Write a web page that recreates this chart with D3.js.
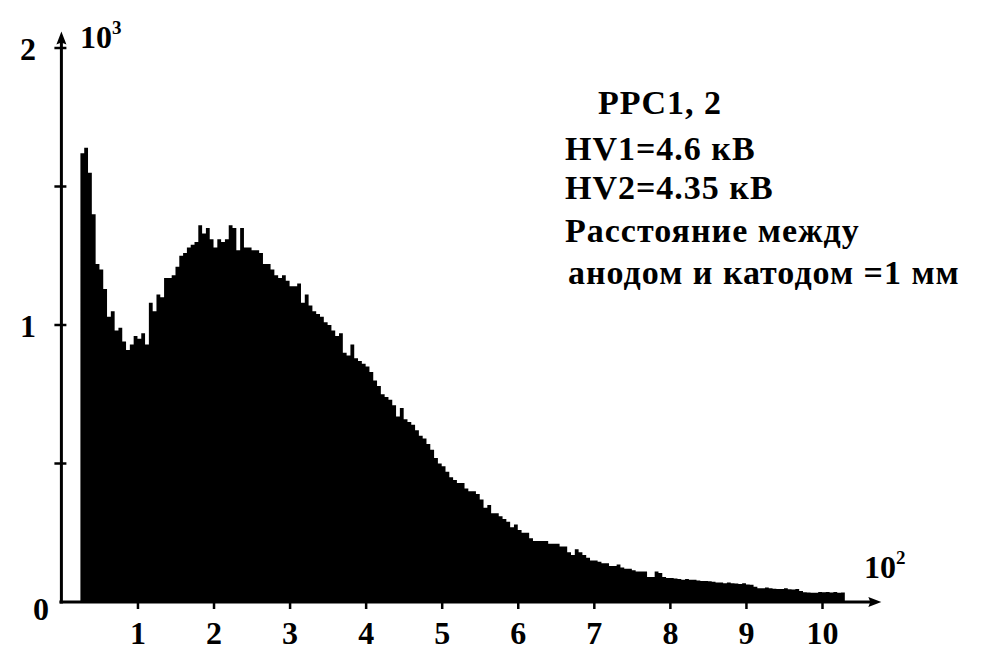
<!DOCTYPE html>
<html>
<head>
<meta charset="utf-8">
<script src="https://cdn.jsdelivr.net/npm/d3@7"></script>
<style>
  body { margin: 0; background: #fff; }
  svg { display: block; }
</style>
</head>
<body>
<svg id="chart" width="991" height="650"></svg>
<script>
// Amplitude spectrum, channel axis in units of 10^2, counts in units of 10^3.
const binStart = 0.25;
const binWidth = 0.05;

// counts per bin (x10^3), left to right
const countsPedestal = [1.62, 1.64, 1.55, 1.40, 1.22, 1.20, 1.13, 1.03, 1.05, 0.98,
                        0.99, 0.94, 0.91, 0.93, 0.96, 0.95, 0.97, 0.93];
const countsRise = [1.08, 1.05, 1.11, 1.10, 1.17, 1.17, 1.18, 1.21, 1.25, 1.26,
                    1.28, 1.29, 1.30, 1.36, 1.33, 1.35, 1.31, 1.28, 1.31, 1.30,
                    1.31, 1.36, 1.35, 1.27, 1.35, 1.28, 1.28];
const countsFall = [1.27, 1.27, 1.26, 1.22, 1.22, 1.20, 1.18, 1.17, 1.18, 1.16,
                    1.14, 1.14, 1.15, 1.08, 1.11, 1.07, 1.05, 1.04, 1.03, 1.01,
                    1.00, 0.98, 0.96, 0.97, 0.90, 0.89, 0.93, 0.88, 0.87, 0.86,
                    0.85, 0.83, 0.80, 0.78, 0.75, 0.74, 0.73, 0.71, 0.67, 0.70,
                    0.66, 0.65, 0.64, 0.62, 0.60, 0.59, 0.57, 0.55, 0.52, 0.50,
                    0.49, 0.47, 0.45, 0.44, 0.43, 0.43, 0.41, 0.40, 0.40, 0.39,
                    0.37, 0.34, 0.35, 0.32, 0.32, 0.31, 0.30, 0.29, 0.27, 0.28,
                    0.26, 0.25, 0.25, 0.23, 0.22, 0.22, 0.22, 0.22, 0.21, 0.21,
                    0.21, 0.20, 0.20, 0.18, 0.17, 0.19, 0.18, 0.17, 0.16];
const countsTail = [0.150, 0.150, 0.145, 0.140, 0.140, 0.130, 0.130, 0.135, 0.125, 0.120,
                    0.120, 0.115, 0.110, 0.110, 0.110, 0.090, 0.090, 0.110, 0.105, 0.090,
                    0.087, 0.087, 0.085, 0.083, 0.080, 0.083, 0.080, 0.080, 0.078, 0.076,
                    0.076, 0.075, 0.073, 0.070, 0.070, 0.068, 0.070, 0.068, 0.067, 0.065,
                    0.068, 0.063, 0.062, 0.055, 0.050, 0.050, 0.052, 0.050, 0.048, 0.047,
                    0.047, 0.050, 0.046, 0.045, 0.047, 0.040, 0.035, 0.034, 0.033, 0.033,
                    0.036, 0.035, 0.036, 0.034, 0.036, 0.033, 0.034];

const counts = [].concat(countsPedestal, countsRise, countsFall, countsTail);

const xTicks = [1, 2, 3, 4, 5, 6, 7, 8, 9, 10];
const yTicks = [0.5, 1, 1.5, 2];
const yTickLabels = [1, 2];
const notes = ["PPC1, 2", "HV1=4.6 кВ", "HV2=4.35 кВ", "Расстояние между", "анодом и катодом =1 мм"];

const serif = (sel, size) => sel
  .attr("font-family", "Liberation Serif")
  .attr("font-weight", "bold")
  .attr("font-size", size)
  .attr("fill", "#000");

const svg = d3.select("#chart");

const x = d3.scaleLinear().domain([0, 10]).range([61.4, 822]);
const y = d3.scaleLinear().domain([0, 2]).range([602, 48]);

// histogram as a stepped filled area
const pts = counts.map((c, i) => [binStart + i * binWidth, c]);
pts.push([binStart + counts.length * binWidth, counts[counts.length - 1]]);
const area = d3.area()
  .curve(d3.curveStepAfter)
  .x(d => x(d[0]))
  .y0(y(0))
  .y1(d => y(d[1]));
svg.append("path").datum(pts).attr("d", area).attr("fill", "#000");

// axes
const xEnd = 10.78, yEnd = 2.06;
svg.append("line")
  .attr("x1", x(0) - 2).attr("x2", x(xEnd) - 8)
  .attr("y1", y(0)).attr("y2", y(0))
  .attr("stroke", "#000").attr("stroke-width", 3);
svg.append("line")
  .attr("x1", x(0)).attr("x2", x(0))
  .attr("y1", y(0) + 1.5).attr("y2", y(yEnd) + 8)
  .attr("stroke", "#000").attr("stroke-width", 3);

// arrow heads
svg.append("path")
  .attr("d", `M${x(xEnd)},${y(0)} l-13,-5 l2,5 l-2,5 Z`)
  .attr("fill", "#000");
svg.append("path")
  .attr("d", `M${x(0)},${y(yEnd)} l-5,13 l5,-2 l5,2 Z`)
  .attr("fill", "#000");

// x ticks and labels
const xAxis = d3.axisBottom(x).tickValues(xTicks).tickSize(7).tickFormat(d3.format("d"));
const gx = svg.append("g").attr("transform", `translate(0,${y(0)})`).call(xAxis);
gx.attr("font-family", null).attr("font-size", null);
gx.select(".domain").remove();
gx.selectAll(".tick line").attr("stroke", "#000").attr("stroke-width", 2.5);
serif(gx.selectAll(".tick text").attr("y", 42).attr("dy", null), 32);

// y ticks
svg.append("g").selectAll("line").data(yTicks).join("line")
  .attr("x1", x(0) - 7).attr("x2", x(0) + 5)
  .attr("y1", d => y(d)).attr("y2", d => y(d))
  .attr("stroke", "#000").attr("stroke-width", 2.5);

serif(svg.append("g").selectAll("text").data(yTickLabels).join("text")
  .attr("x", 28).attr("y", d => y(d) + 12)
  .attr("text-anchor", "middle")
  .text(d => d), 32);

serif(svg.append("text").attr("x", 41).attr("y", 620)
  .attr("text-anchor", "middle").text("0"), 32);

// unit labels
const yUnit = serif(svg.append("text").attr("x", 80).attr("y", 48), 32);
yUnit.append("tspan").text("10");
yUnit.append("tspan").attr("dy", -14).attr("font-size", 19).text("3");

const xUnit = serif(svg.append("text").attr("x", 864).attr("y", 578), 32);
xUnit.append("tspan").text("10");
xUnit.append("tspan").attr("dy", -14).attr("font-size", 19).text("2");

// run parameters
const noteX = [598, 565, 565, 565, 568];
const noteY = [114, 160, 199, 242, 284];
serif(svg.append("g").selectAll("text").data(notes).join("text")
  .attr("x", (d, i) => noteX[i])
  .attr("y", (d, i) => noteY[i])
  .attr("letter-spacing", 1)
  .text(d => d), 34);
</script>
</body>
</html>
